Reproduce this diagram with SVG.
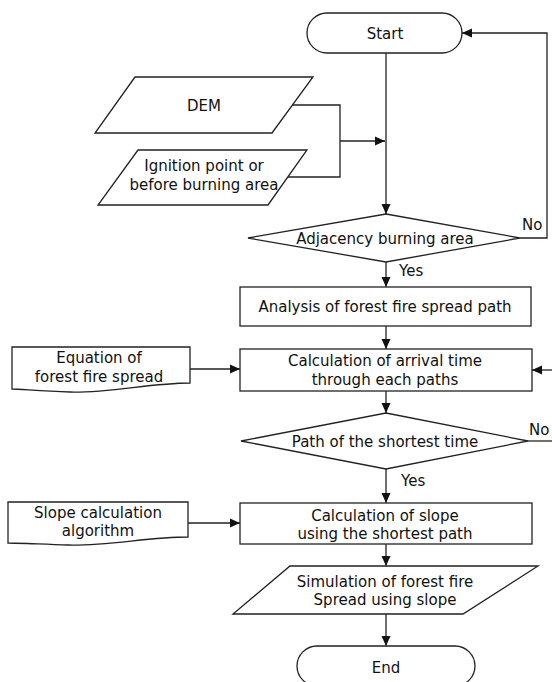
<svg xmlns="http://www.w3.org/2000/svg" width="552" height="682" viewBox="0 0 552 682">
<defs>
<marker id="ah" markerWidth="10" markerHeight="10" refX="10" refY="5" orient="auto" markerUnits="userSpaceOnUse">
<path d="M0,0.5 L10,5 L0,9.5 Z" fill="#111"/>
</marker>
<style>
.s{fill:#fff;stroke:#222;stroke-width:1.3}
.c{fill:none;stroke:#222;stroke-width:1.3}
.a{marker-end:url(#ah)}
text{font-family:"DejaVu Sans","Liberation Sans",sans-serif;font-size:15px;fill:#111;text-anchor:middle}
.l{text-anchor:start}
</style>
</defs>
<rect width="552" height="682" fill="#fff"/>
<g id="connectors">
<path class="c a" d="M386,53 V214"/>
<path class="c" d="M292,105 H340 V177 H288"/>
<path class="c a" d="M340,141 H385"/>
<path class="c a" d="M520,238 H547 V33 H462"/>
<path class="c a" d="M386,262 V287"/>
<path class="c a" d="M386,326 V349"/>
<path class="c a" d="M386,391 V413"/>
<path class="c" d="M528,441 H552"/>
<path class="c a" d="M552,370 H532"/>
<path class="c a" d="M190,369 H240"/>
<path class="c a" d="M386,469 V503"/>
<path class="c a" d="M188,523 H240"/>
<path class="c a" d="M386,544 V566"/>
<path class="c a" d="M386,614 V646"/>
</g>
<g id="start">
<rect class="s" x="307" y="13" width="155" height="40" rx="20"/>
<text x="385" y="39">Start</text>
</g>
<g id="dem">
<polygon class="s" points="135,77 313,77 272,133 95,133"/>
<text x="204" y="111">DEM</text>
</g>
<g id="ignition">
<polygon class="s" points="138,150 307,150 268,205 98,205"/>
<text x="204" y="171">Ignition point or</text>
<text x="204" y="190">before burning area</text>
</g>
<g id="adjacency">
<polygon class="s" points="386,214 520,238 386,262 248,238"/>
<text x="385" y="244">Adjacency burning area</text>
<text class="l" x="522" y="230">No</text>
<text class="l" x="399" y="276">Yes</text>
</g>
<g id="analysis">
<rect class="s" x="240" y="287" width="291" height="39"/>
<text x="385" y="312">Analysis of forest fire spread path</text>
</g>
<g id="equation">
<path class="s" d="M12,347 H190 V383 C150,383 110,393 70,392 C40,391 20,389 12,389 Z"/>
<text x="99" y="363">Equation of</text>
<text x="99" y="382">forest fire spread</text>
</g>
<g id="arrival">
<rect class="s" x="240" y="349" width="292" height="42"/>
<text x="385" y="366">Calculation of arrival time</text>
<text x="385" y="385">through each paths</text>
</g>
<g id="shortest">
<polygon class="s" points="386,413 528,441 386,469 241,441"/>
<text x="385" y="447">Path of the shortest time</text>
<text class="l" x="529" y="435">No</text>
<text class="l" x="401" y="486">Yes</text>
</g>
<g id="slopealg">
<path class="s" d="M8,502 H188 V537 C148,537 108,546 68,545 C38,544 18,543 8,543 Z"/>
<text x="98" y="518">Slope calculation</text>
<text x="98" y="536">algorithm</text>
</g>
<g id="slopecalc">
<rect class="s" x="240" y="503" width="292" height="41"/>
<text x="385" y="521">Calculation of slope</text>
<text x="385" y="539">using the shortest path</text>
</g>
<g id="simulation">
<polygon class="s" points="290,566 538,566 463,614 233,614"/>
<text x="385" y="587">Simulation of forest fire</text>
<text x="385" y="605">Spread using slope</text>
</g>
<g id="end">
<rect class="s" x="297" y="646" width="178" height="40" rx="20"/>
<text x="386" y="673">End</text>
</g>
</svg>
